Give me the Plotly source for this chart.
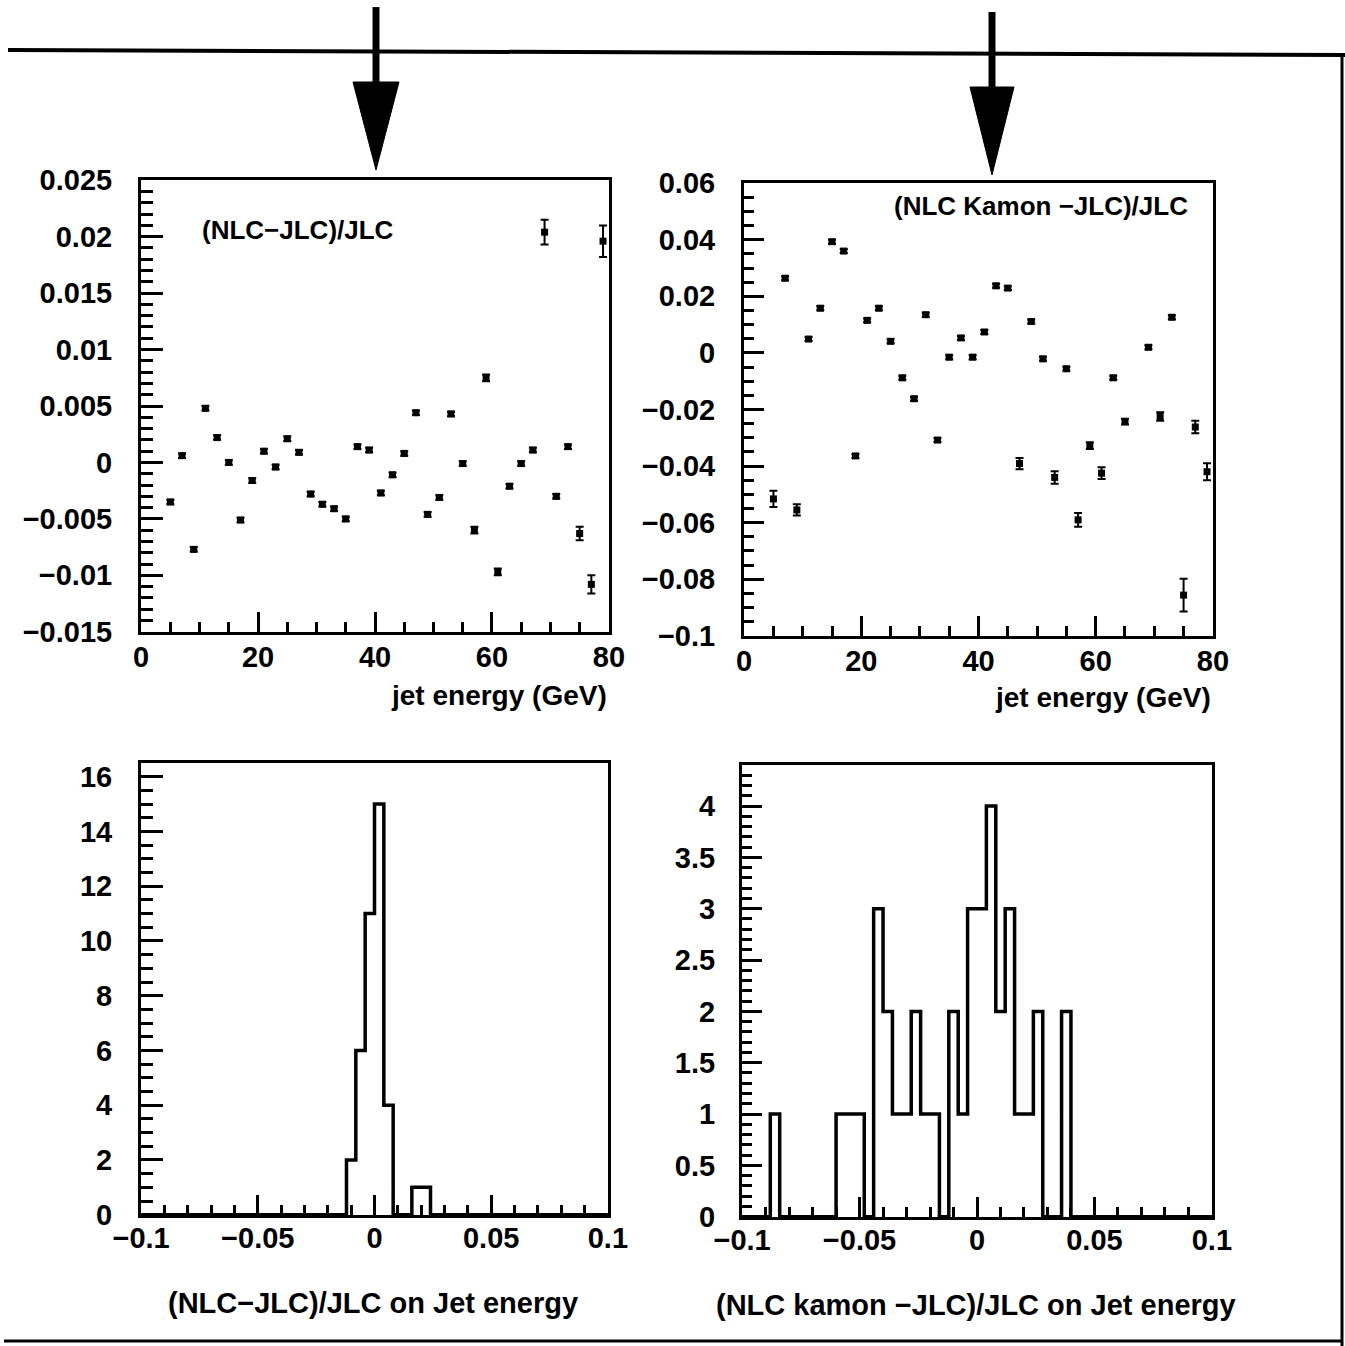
import plotly.graph_objects as go

W, H = 1345, 1346

# ---------------- data ----------------
jet_energy = [5, 7, 9, 11, 13, 15, 17, 19, 21, 23, 25, 27, 29, 31, 33, 35, 37, 39, 41, 43,
              45, 47, 49, 51, 53, 55, 57, 59, 61, 63, 65, 67, 69, 71, 73, 75, 77, 79]
nlc_rel = [-0.0035, 0.0006, -0.0077, 0.0048, 0.0022, 0.0000, -0.0051, -0.0016, 0.0010, -0.0004,
           0.0021, 0.0009, -0.0028, -0.0037, -0.0041, -0.0050, 0.0014, 0.0011, -0.0027, -0.0011,
           0.0008, 0.0044, -0.0046, -0.0031, 0.0043, -0.0001, -0.0060, 0.0075, -0.0097, -0.0021,
           -0.0001, 0.0011, 0.0204, -0.0030, 0.0014, -0.0063, -0.0108, 0.0196]
nlc_err = [0.0002, 0.0002, 0.0002, 0.0002, 0.0002, 0.0002, 0.0002, 0.0002, 0.0002, 0.0002,
           0.0002, 0.0002, 0.0002, 0.0002, 0.0002, 0.0002, 0.0002, 0.0002, 0.0002, 0.0002,
           0.0002, 0.0002, 0.0002, 0.0002, 0.0002, 0.0002, 0.0003, 0.0003, 0.0003, 0.0002,
           0.0002, 0.0002, 0.0011, 0.0002, 0.0002, 0.0006, 0.0008, 0.0014]

jet_energy_k = [5, 7, 9, 11, 13, 15, 17, 19, 21, 23, 25, 27, 29, 31, 33, 35, 37, 39, 41, 43,
                45, 47, 49, 51, 53, 55, 57, 59, 61, 63, 65, 69, 71, 73, 75, 77, 79]
kamon_rel = [-0.0516, 0.0264, -0.0555, 0.0049, 0.0158, 0.0393, 0.0360, -0.0364, 0.0115, 0.0158,
             0.0041, -0.0088, -0.0162, 0.0135, -0.0308, -0.0015, 0.0053, -0.0015, 0.0074, 0.0237,
             0.0229, -0.0391, 0.0111, -0.0021, -0.0440, -0.0056, -0.0590, -0.0328, -0.0425, -0.0088,
             -0.0243, 0.0020, -0.0225, 0.0126, -0.0856, -0.0262, -0.0420]
kamon_err = [0.0029, 0.0007, 0.0020, 0.0007, 0.0007, 0.0007, 0.0007, 0.0007, 0.0007, 0.0007,
             0.0007, 0.0007, 0.0007, 0.0007, 0.0007, 0.0007, 0.0007, 0.0007, 0.0007, 0.0007,
             0.0007, 0.0020, 0.0007, 0.0007, 0.0022, 0.0007, 0.0024, 0.0012, 0.0021, 0.0007,
             0.0010, 0.0007, 0.0015, 0.0007, 0.0058, 0.0022, 0.0030]

# histogram: 50 bins of width 0.004 from -0.1 to 0.1
hist_lo, hist_hi, n_bins = -0.1, 0.1, 50
hist_nlc = [0] * 22 + [2, 6, 11, 15, 4, 0, 0, 1, 1] + [0] * 19
hist_kamon = [0, 0, 0, 1, 0, 0, 0, 0, 0, 0, 1, 1, 1, 0, 3, 2, 1, 1, 2, 1,
              1, 0, 2, 1, 3, 3, 4, 2, 3, 1, 1, 2, 0, 0, 2, 0, 0, 0, 0, 0,
              0, 0, 0, 0, 0, 0, 0, 0, 0, 0]

FONT = "Liberation Sans"


def px_x(p):
    return p / W


def px_y(p):
    return 1 - p / H


def step_xy(counts):
    width = (hist_hi - hist_lo) / n_bins
    edges = [hist_lo + i * width for i in range(n_bins + 1)]
    xs = edges[:n_bins] + [edges[n_bins]]
    ys = list(counts) + [counts[-1]]
    return xs, ys


fig = go.Figure()

# top-left scatter
fig.add_trace(go.Scatter(
    x=jet_energy, y=nlc_rel, mode="markers",
    marker=dict(symbol="square", size=7, color="black"),
    error_y=dict(type="data", array=nlc_err, visible=True, color="black", thickness=2, width=4),
    xaxis="x", yaxis="y", showlegend=False))

# top-right scatter
fig.add_trace(go.Scatter(
    x=jet_energy_k, y=kamon_rel, mode="markers",
    marker=dict(symbol="square", size=7, color="black"),
    error_y=dict(type="data", array=kamon_err, visible=True, color="black", thickness=2, width=4),
    xaxis="x2", yaxis="y2", showlegend=False))

# bottom-left histogram
hx, hy = step_xy(hist_nlc)
fig.add_trace(go.Scatter(x=hx, y=hy, mode="lines", line=dict(shape="hv", color="black", width=3.5),
                         xaxis="x3", yaxis="y3", showlegend=False))

# bottom-right histogram
hx, hy = step_xy(hist_kamon)
fig.add_trace(go.Scatter(x=hx, y=hy, mode="lines", line=dict(shape="hv", color="black", width=3.5),
                         xaxis="x4", yaxis="y4", showlegend=False))

tickfont = dict(family=FONT, size=29, color="black", weight="bold")


def axis(domain, rng, dtick, mdtick, anchor, majlen, minlen, standoff):
    return dict(
        domain=domain, range=rng, anchor=anchor, automargin=False,
        tickmode="linear", tick0=0, dtick=dtick,
        showline=True, linecolor="black", linewidth=3, mirror=True,
        ticks="inside", ticklen=majlen, tickwidth=3, tickcolor="black",
        minor=dict(ticks="inside", ticklen=minlen, tickwidth=3, tickcolor="black",
                   tick0=0, dtick=mdtick, showgrid=False),
        showgrid=False, zeroline=False, tickfont=tickfont,
        ticklabelstandoff=standoff,
    )


fig.update_layout(
    width=W, height=H, margin=dict(l=0, r=0, t=0, b=0, autoexpand=False),
    paper_bgcolor="white", plot_bgcolor="white",
    xaxis=axis([px_x(141), px_x(609)], [-0.02, 80.02], 20, 5, "y", 20, 10, -3),
    yaxis=axis([px_y(632), px_y(180)], [-0.01502, 0.02502], 0.005, 0.001, "x", 22, 12, 20),
    xaxis2=axis([px_x(744), px_x(1213)], [-0.02, 80.02], 20, 5, "y2", 20, 10, -3),
    yaxis2=axis([px_y(636), px_y(183)], [-0.10005, 0.06005], 0.02, 0.005, "x2", 20, 10, 20),
    xaxis3=axis([px_x(141), px_x(608)], [-0.10005, 0.10005], 0.05, 0.01, "y3", 20, 10, -5),
    yaxis3=axis([px_y(1215), px_y(763)], [-0.01, 16.5], 2, 0.5, "x3", 22, 12, 20),
    xaxis4=axis([px_x(742), px_x(1212)], [-0.10005, 0.10005], 0.05, 0.01, "y4", 20, 10, -5),
    yaxis4=axis([px_y(1217), px_y(765)], [-0.003, 4.4], 0.5, 0.1, "x4", 20, 10, 18),
)

lab = dict(family=FONT, size=26, color="black", weight="bold")
lab28 = dict(family=FONT, size=28, color="black", weight="bold")
lab29 = dict(family=FONT, size=29, color="black", weight="bold")
annots = [
    dict(text="(NLC−JLC)/JLC", x=px_x(200), y=px_y(230), xanchor="left", yanchor="middle", font=lab),
    dict(text="(NLC Kamon −JLC)/JLC", x=px_x(892), y=px_y(206), xanchor="left", yanchor="middle", font=lab),
    dict(text="jet energy (GeV)", x=px_x(609), y=px_y(695), xanchor="right", yanchor="middle", font=lab28),
    dict(text="jet energy (GeV)", x=px_x(1213), y=px_y(697), xanchor="right", yanchor="middle", font=lab28),
    dict(text="(NLC−JLC)/JLC on Jet energy", x=px_x(373), y=px_y(1303), xanchor="center", yanchor="middle", font=lab29),
    dict(text="(NLC kamon −JLC)/JLC on Jet energy", x=px_x(976), y=px_y(1305), xanchor="center", yanchor="middle", font=lab29),
]
for a in annots:
    fig.add_annotation(xref="paper", yref="paper", showarrow=False, **a)

# page decorations (scan frame lines and arrows)
shapes = [
    dict(type="line", x0=px_x(8), y0=px_y(50), x1=px_x(1345), y1=px_y(55), line=dict(color="black", width=4)),
    dict(type="line", x0=px_x(4), y0=px_y(1341), x1=px_x(1342), y1=px_y(1341), line=dict(color="black", width=3)),
    dict(type="line", x0=px_x(1342), y0=px_y(56), x1=px_x(1342), y1=px_y(1346), line=dict(color="black", width=3)),
    dict(type="line", x0=px_x(376), y0=px_y(7), x1=px_x(376), y1=px_y(90), line=dict(color="black", width=7)),
    dict(type="line", x0=px_x(992), y0=px_y(12), x1=px_x(992), y1=px_y(95), line=dict(color="black", width=7)),
]
for (cx, top, bot, hw) in [(376, 82, 170, 23), (992, 87, 175, 22)]:
    path = "M {},{} L {},{} L {},{} Z".format(px_x(cx - hw), px_y(top), px_x(cx + hw), px_y(top), px_x(cx), px_y(bot))
    shapes.append(dict(type="path", path=path, fillcolor="black", line=dict(color="black", width=1)))
for s in shapes:
    fig.add_shape(xref="paper", yref="paper", layer="above", **s)

fig.write_html("out.html", config={"displayModeBar": False},
               post_script="document.body.style.margin='0';document.body.style.overflow='hidden';")
